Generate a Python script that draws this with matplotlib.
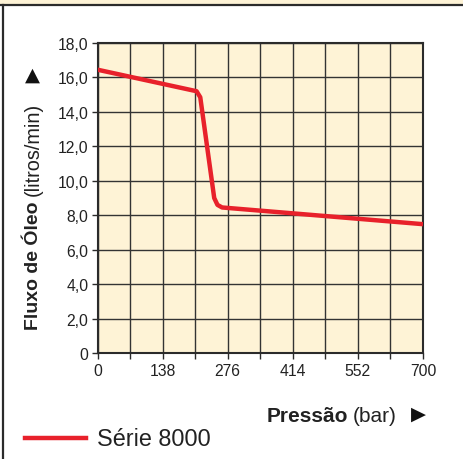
import matplotlib
matplotlib.use("Agg")
import matplotlib.pyplot as plt
from matplotlib.lines import Line2D

# ---- data ----
pressure = [0, 213, 221, 251, 258, 268, 700]
flow = [16.45, 15.2, 14.85, 9.0, 8.6, 8.45, 7.48]
x_ticks = [0, 140, 280, 420, 560, 700]
x_tick_labels = ["0", "138", "276", "414", "552", "700"]
y_ticks = [0, 2, 4, 6, 8, 10, 12, 14, 16, 18]
y_tick_labels = ["0", "2,0", "4,0", "6,0", "8,0", "10,0", "12,0", "14,0", "16,0", "18,0"]
series_name = "Série 8000"

BG = "#FEF3D6"
RED = "#E8212B"
DARK = "#2b2b2b"
FAM = ["Liberation Sans", "DejaVu Sans"]
plt.rcParams["font.family"] = FAM

W, H = 464, 460
fig = plt.figure(figsize=(W / 100, H / 100), dpi=100)
fig.patch.set_facecolor("white")

def fx(px):
    return px / W

def fy(py):
    return 1 - py / H

# frame decorations: top band and left rule
fig.patches.append(plt.Rectangle((0, fy(6)), 1, 1 - fy(6), transform=fig.transFigure,
                                 facecolor=BG, edgecolor="none", zorder=0))
fig.lines.append(Line2D([0, 1], [fy(6.3), fy(6.3)], transform=fig.transFigure, color=DARK, lw=1.6))
fig.lines.append(Line2D([fx(3), fx(3)], [0, fy(6.3)], transform=fig.transFigure, color=DARK, lw=1.6))

left, right, top, bottom = 97.5, 423, 44, 354
ax = fig.add_axes([fx(left), fy(bottom), fx(right) - fx(left), fy(top) - fy(bottom)])
ax.set_facecolor(BG)
ax.set_xlim(0, 700)
ax.set_ylim(0, 18)

ax.set_xticks(range(0, 701, 70), minor=True)
ax.set_xticks(x_ticks)
ax.set_xticklabels(x_tick_labels)
ax.set_yticks(y_ticks)
ax.set_yticklabels(y_tick_labels)
ax.grid(True, which="both", axis="x", color="#333333", lw=1.0)
ax.grid(True, which="major", axis="y", color="#333333", lw=1.0)
ax.tick_params(which="both", direction="out", length=4.5, width=1.0, color=DARK,
               labelsize=11.3, labelcolor="#222222")
ax.tick_params(axis="x", pad=3)
ax.tick_params(axis="y", pad=2)
for s in ax.spines.values():
    s.set_color(DARK)
    s.set_linewidth(1.5)
ax.set_axisbelow(True)

ax.plot(pressure, flow, color=RED, lw=3.2, solid_joinstyle="round", solid_capstyle="butt", zorder=3)

# y axis label (mixed weights)
fig.canvas.draw()
r = fig.canvas.get_renderer()
t1 = fig.text(fx(33), fy(330), "Fluxo de Óleo", rotation=90, fontsize=14, fontweight="bold",
              ha="center", va="bottom", color="#222222")
bb = t1.get_window_extent(r)
t2 = fig.text(fx(33), (bb.y1 + 5) / H, "(litros/min)", rotation=90, fontsize=14.3,
              ha="center", va="bottom", color="#222222")
fig.text(fx(32), fy(75.5), "▲", fontsize=14, ha="center", va="center", color="#111111",
         family=["DejaVu Sans"])

# x axis label
t3 = fig.text(fx(266.7), fy(422), "Pressão", fontsize=15, fontweight="bold",
              ha="left", va="baseline", color="#222222")
bb3 = t3.get_window_extent(r)
fig.text((bb3.x1 + 5) / W, fy(422), "(bar)", fontsize=15, ha="left", va="baseline", color="#222222")
fig.text(fx(418), fy(414.5), "▶", fontsize=14, ha="center", va="center", color="#111111",
         family=["DejaVu Sans"])

# legend
fig.lines.append(Line2D([fx(25), fx(86)], [fy(439), fy(439)], transform=fig.transFigure,
                        color=RED, lw=3.2))
fig.text(fx(97), fy(445.7), series_name, fontsize=16.8, ha="left", va="baseline", color="#222222")

fig.savefig("out.png", dpi=100, facecolor="white")
